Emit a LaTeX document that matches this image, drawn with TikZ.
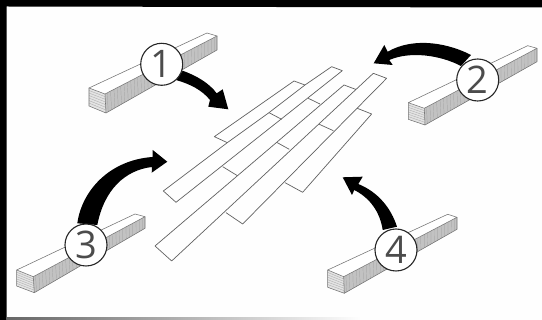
\documentclass[tikz,border=0pt]{standalone}
\usepackage{fontspec}
\setmainfont{Open Sans}
\usetikzlibrary{calc}
\tikzset{
  plank/.style={draw=black!62,line width=0.7pt,line join=round},
  badge/.style={circle,draw=black!85,line width=1.1pt,fill=white,minimum size=42pt,inner sep=0pt,font=\fontsize{38}{38}\selectfont,text=black!70},
  curved/.style={fill=black,draw=none},
  beamedge/.style={draw=black!55,line width=0.55pt,line join=round},
}
% #1..#4 front face (tl,tr,br,bl) #5 far top-left #6 far top-right #7 far bottom-right
\newcommand{\beamdraw}[7]{%
  \fill[gray!48] (#2) -- (#6) -- (#7) -- (#3) -- cycle;
  \foreach \t in {0.02,0.05,...,0.99}{
    \draw[black!40,line width=0.2pt] ($(#2)!\t!(#6)$) -- ($(#3)!\t!(#7)$);
  }
  \fill[gray!22] (#1) -- (#2) -- (#3) -- (#4) -- cycle;
  \foreach \t in {0.14,0.28,...,0.95}{
    \draw[black!35,line width=0.3pt] ($(#1)!\t!(#4)$) -- ($(#2)!\t!(#3)$);
  }
  \draw[beamedge,fill=white] (#1) -- (#2) -- (#6) -- (#5) -- cycle;
  \draw[beamedge] (#1) -- (#4) -- (#3) -- (#2);
  \draw[beamedge] (#3) -- (#7) -- (#6);
}
\begin{document}
\begin{tikzpicture}[x=1pt,y=-1pt]
\useasboundingbox (0,0) rectangle (542,320);
\fill[white!99!gray] (0,0) rectangle (542,320);
\fill[black] (0,0) -- (542,0) -- (542,7.5) -- (6.5,6.5) -- (6.5,320) -- (0,320) -- cycle;
\shade[left color=black!60,right color=white!99!gray] (6.5,318) rectangle (360,320);

% beams
\beamdraw{89,88}{105,94}{106,113}{89,106}{207,33}{217,36}{217,50}
\beamdraw{408.3,102.7}{424.3,108.3}{425,125}{408.3,119.3}{527.7,45.7}{537,48.3}{537,61.7}
\beamdraw{16.7,270}{33.3,276.7}{34.3,292.7}{16.7,286}{135,214}{145,216.7}{145,228.3}
\beamdraw{327.7,270}{343.7,276.7}{344.3,293.3}{327.7,287.3}{447.7,214.3}{457,217.3}{457,229.3}

% planks
\begin{scope}[shift={(150,60)},x=0.3333pt,y=-0.3333pt]
  \draw[plank] (232,248) -- (193,230) -- (432,63) -- (465,75);
  \draw[plank] (232,248) -- (40,393) -- (78,427) -- (577,32) -- (545,20) -- (465,75) -- (357,158) -- (232,248);
  \draw[plank] (357,158) -- (395,178);
  \draw[plank] (218,320) -- (262,347);
  \draw[plank] (475,115) -- (510,132);
  \draw[plank] (617,88) -- (582,75) -- (15,558) -- (65,603) -- (670,40) -- (710,55) -- (278,492) -- (228,458);
  \draw[plank] (380,247) -- (418,268);
  \draw[plank] (508,193) -- (550,212);
  \draw[plank] (405,368) -- (458,397) -- (665,162) -- (622,145);
\end{scope}

% arrows
\fill[curved] (182.7,70.7) .. controls (197,76) and (209,83) .. (216.7,93.3)
  -- (222.7,89.3) -- (228.3,109.3) -- (208.3,106.7) -- (210,100)
  .. controls (202,90) and (190,84) .. (176,80) -- cycle;
\fill[curved] (471,55) .. controls (450,44) and (415,36) .. (387.7,51.7)
  -- (384.3,45) -- (373.7,63.3) -- (392.7,65) -- (389.3,60)
  .. controls (410,51) and (440,55) .. (461,66) -- cycle;
\fill[curved] (77.3,223.3) .. controls (82,190) and (110,160) .. (152.5,157)
  -- (152.7,150) -- (167.3,161.7) -- (151.7,172.7) -- (152,167)
  .. controls (125,170) and (104,190) .. (97.3,225) -- cycle;
\fill[curved] (382.7,230) .. controls (380,212) and (370,198) .. (354.3,190)
  -- (352,195) -- (342.7,177.3) -- (362.7,176.7) -- (358.3,184)
  .. controls (378,192) and (391,208) .. (397,226.7) -- cycle;

% numbered badges
\node[badge] (n1) at (161.7,64.3) {1};
\node[badge] (n2) at (477.7,80) {2};
\node[badge] (n3) at (86,245) {3};
\node[badge] (n4) at (396,250) {4};
\end{tikzpicture}
\end{document}
